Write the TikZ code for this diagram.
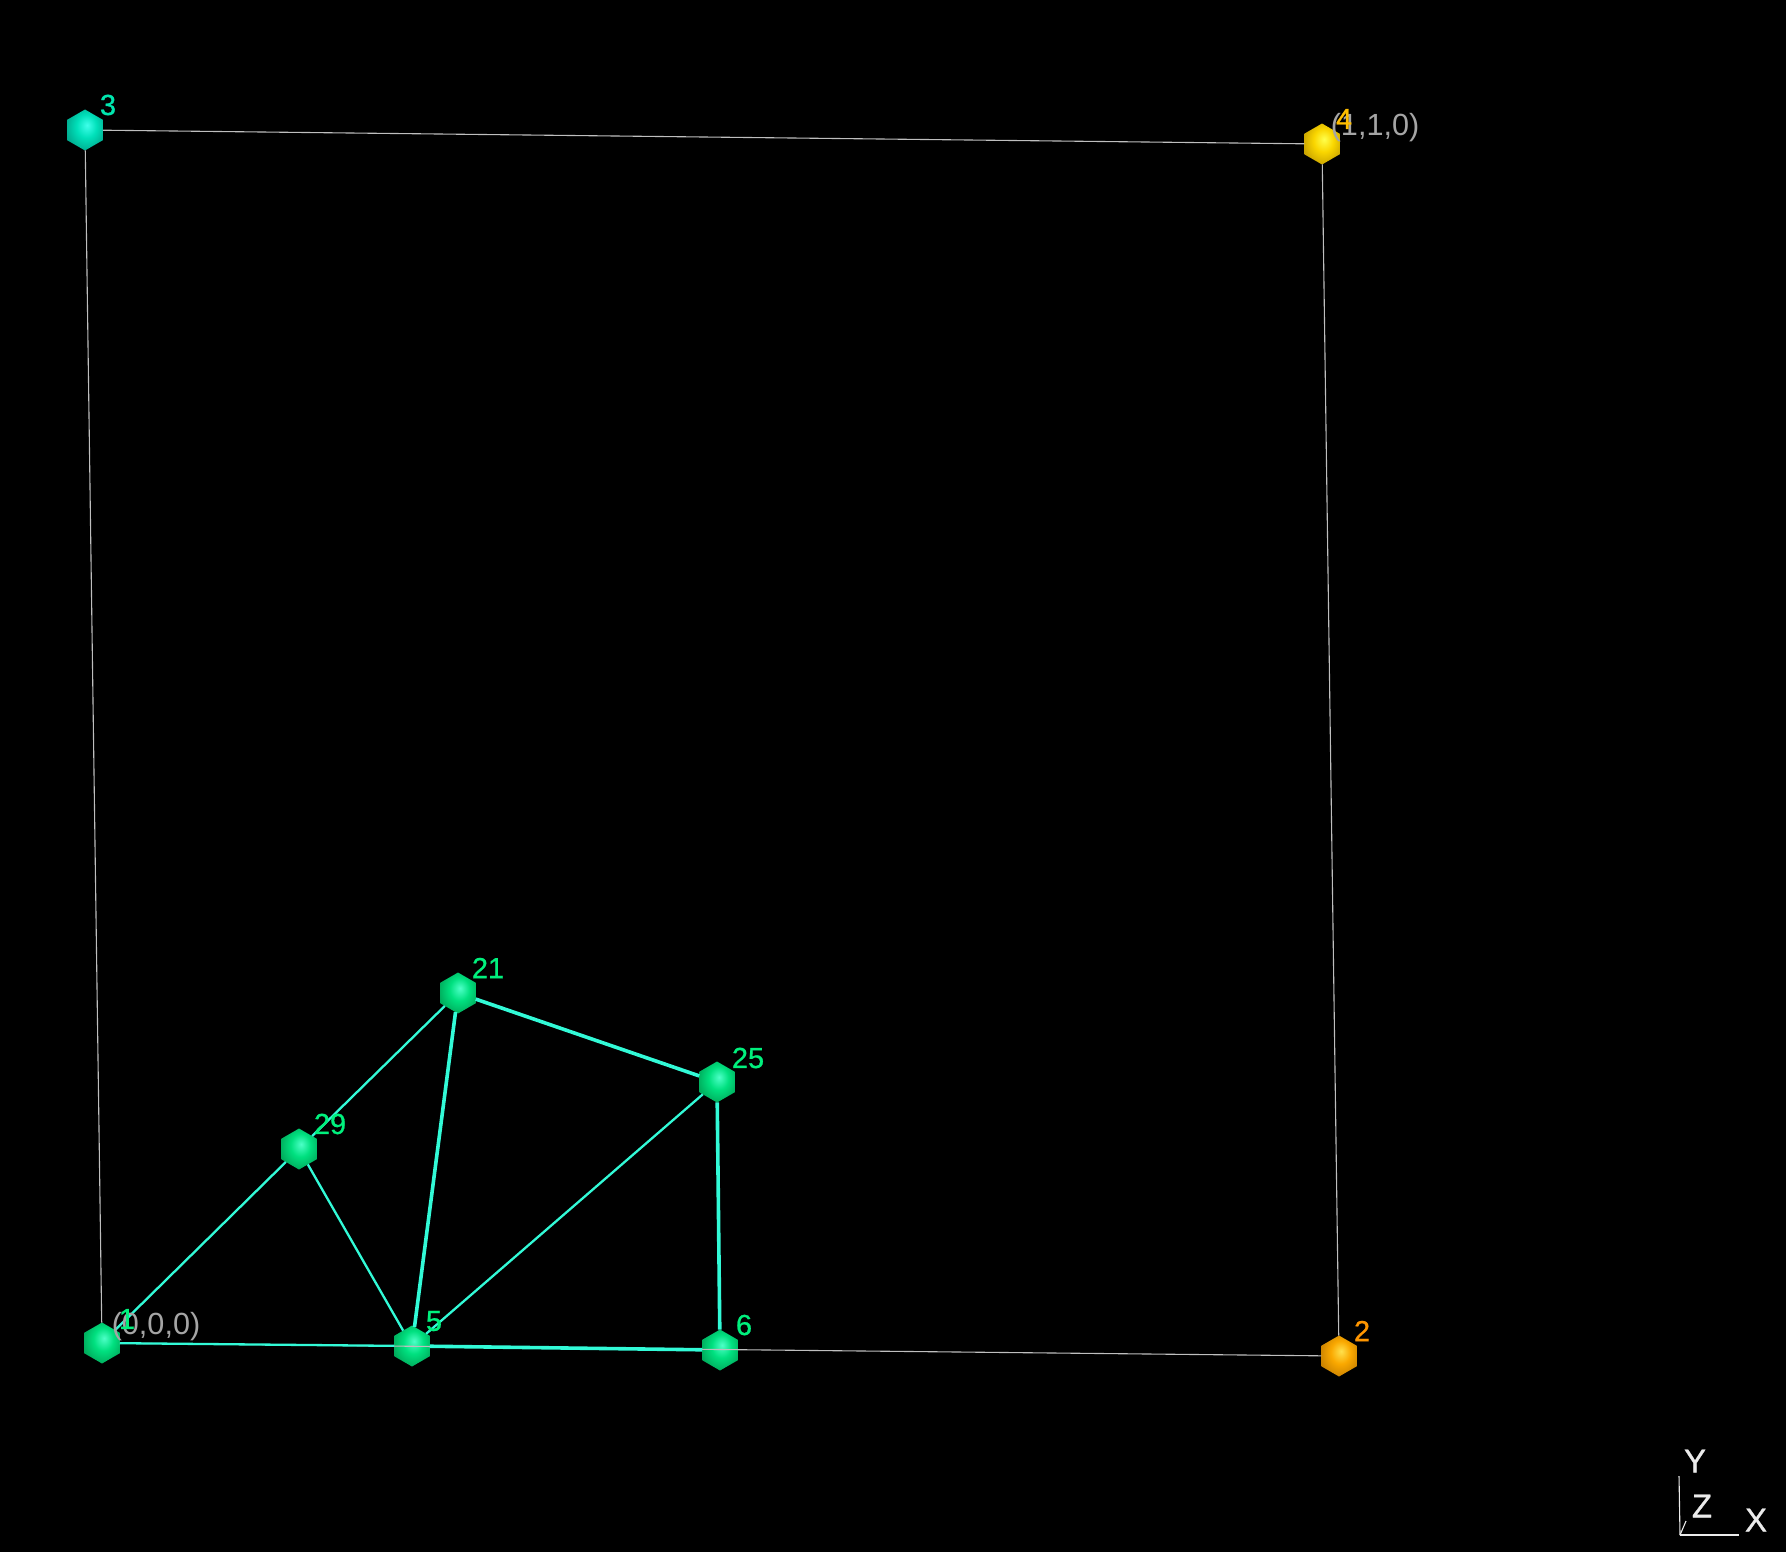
\documentclass[tikz,border=0pt]{standalone}
\usepackage{fontspec}
\setmainfont{Liberation Sans}
\newfontfamily\numfont[FakeBold=0.8]{Liberation Sans}
\usetikzlibrary{shapes.geometric}
\definecolor{txtgray}{RGB}{165,165,165}
\definecolor{edgegray}{RGB}{190,190,190}
\definecolor{edgecyan}{RGB}{50,250,215}
\definecolor{lblgreen}{RGB}{0,240,125}
\definecolor{lblcyan}{RGB}{0,230,175}
\definecolor{lblyellow}{RGB}{255,190,0}
\definecolor{lblorange}{RGB}{255,150,0}
\definecolor{axiswhite}{RGB}{235,235,235}
\pgfdeclareradialshading{hexgreen}{\pgfpoint{3bp}{6bp}}{rgb(0bp)=(0.30,1,0.78);rgb(14bp)=(0,0.88,0.50);rgb(30bp)=(0,0.66,0.35);rgb(44bp)=(0,0.42,0.22);rgb(56bp)=(0,0.32,0.17)}
\pgfdeclareradialshading{hexcyan}{\pgfpoint{3bp}{6bp}}{rgb(0bp)=(0.25,1,0.92);rgb(14bp)=(0,0.88,0.73);rgb(30bp)=(0,0.66,0.55);rgb(44bp)=(0,0.42,0.35);rgb(56bp)=(0,0.32,0.27)}
\pgfdeclareradialshading{hexyellow}{\pgfpoint{3bp}{6bp}}{rgb(0bp)=(1,1,0.30);rgb(14bp)=(0.98,0.84,0);rgb(30bp)=(0.78,0.63,0);rgb(44bp)=(0.50,0.39,0);rgb(56bp)=(0.38,0.30,0)}
\pgfdeclareradialshading{hexorange}{\pgfpoint{3bp}{6bp}}{rgb(0bp)=(1,0.88,0.30);rgb(14bp)=(0.98,0.66,0);rgb(30bp)=(0.78,0.50,0);rgb(44bp)=(0.50,0.32,0);rgb(56bp)=(0.38,0.24,0)}
\tikzset{
  x=0.5pt,y=-0.5pt,
  vertex/.style={shape=regular polygon,regular polygon sides=6,shape border rotate=30,minimum size=20.5pt,inner sep=0pt,outer sep=0pt},
  vgreen/.style={vertex,shading=hexgreen},
  vcyan/.style={vertex,shading=hexcyan},
  vyellow/.style={vertex,shading=hexyellow},
  vorange/.style={vertex,shading=hexorange},
  numlabel/.style={inner sep=0pt,font=\numfont\fontsize{14.5pt}{16pt}\selectfont},
  coordlabel/.style={inner sep=0pt,text=txtgray,font=\fontsize{15.3pt}{17pt}\selectfont},
  axislabel/.style={inner sep=0pt,text=axiswhite,font=\numfont\fontsize{16.5pt}{18pt}\selectfont},
  frameedge/.style={draw=edgegray,line width=0.55pt},
  thinedge/.style={draw=edgecyan,line width=1.15pt},
  thickedge/.style={draw=edgecyan,line width=1.8pt},
  axisline/.style={draw=axiswhite,line width=0.55pt}
}
\begin{document}
\begin{tikzpicture}
\fill[black] (0,0) rectangle (1786,1552);
\useasboundingbox (0,0) rectangle (1786,1552);
% vertices
\node[vgreen] (n1) at (102,1343) {};
\node[vorange] (n2) at (1339,1356) {};
\node[vcyan] (n3) at (85,130) {};
\node[vyellow] (n4) at (1322,144) {};
\node[vgreen] (n5) at (412,1346) {};
\node[vgreen] (n6) at (720,1350) {};
\node[vgreen] (n21) at (458,993) {};
\node[vgreen] (n25) at (717,1082) {};
\node[vgreen] (n29) at (299,1149) {};
% frame
\draw[frameedge] (n1) -- (n2);
\draw[frameedge] (n2) -- (n4);
\draw[frameedge] (n3) -- (n4);
\draw[frameedge] (n1) -- (n3);
% mesh
\draw[thinedge] (n1) -- (n29);
\draw[thinedge] (n29) -- (n21);
\draw[thickedge] (n21) -- (n25);
\draw[thickedge] (n21) -- (n5);
\draw[thinedge] (n29) -- (n5);
\draw[thinedge] (n25) -- (n5);
\draw[thickedge] (n25) -- (n6);
\draw[thinedge] (n1) -- (n5);
\draw[thickedge] (n5) -- (n6);
% labels
\node[coordlabel] (c0) at (156,1327) {(0,0,0)};
\node[coordlabel] (c1) at (1375,128) {(1,1,0)};
\node[numlabel,text=lblgreen] (l1) at (127,1319) {1};
\node[numlabel,text=lblorange] (l2) at (1362,1331) {2};
\node[numlabel,text=lblcyan] (l3) at (108,105) {3};
\node[numlabel,text=lblyellow] (l4) at (1344,119) {4};
\node[numlabel,text=lblgreen] (l5) at (434,1321) {5};
\node[numlabel,text=lblgreen] (l6) at (744,1325) {6};
\node[numlabel,text=lblgreen] (l21) at (488,968) {21};
\node[numlabel,text=lblgreen] (l25) at (748,1058) {25};
\node[numlabel,text=lblgreen] (l29) at (330,1124) {29};
% axes
\coordinate (ao) at (1680,1535);
\coordinate (ax) at (1739,1535);
\coordinate (ay) at (1679,1476);
\coordinate (az) at (1686,1521);
\draw[axisline] (ao) -- (ax);
\draw[axisline] (ao) -- (ay);
\draw[axisline] (ao) -- (az);
\node[axislabel] (lx) at (1756,1520) {X};
\node[axislabel] (ly) at (1695,1461) {Y};
\node[axislabel] (lz) at (1702,1506) {Z};
\end{tikzpicture}
\end{document}
